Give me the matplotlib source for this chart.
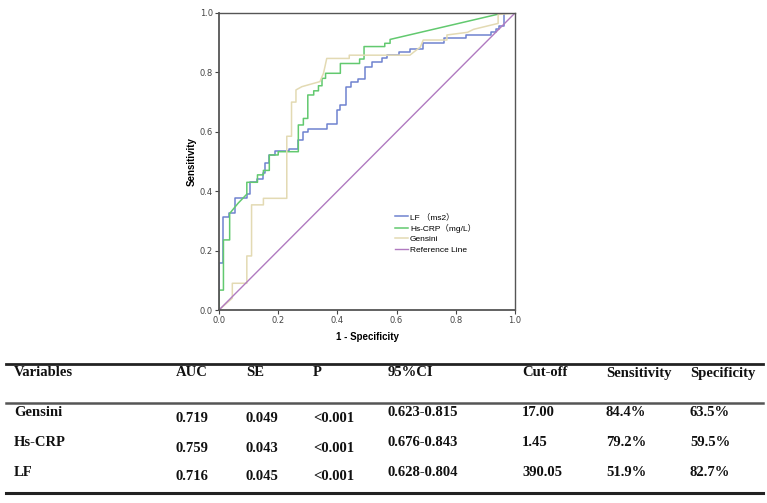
import matplotlib
matplotlib.use("Agg")
import matplotlib.pyplot as plt
from matplotlib.lines import Line2D

# ROC operating points (1 - specificity, sensitivity)
lf_fpr = [0, 0, 0.015, 0.015, 0.035, 0.035, 0.054, 0.054, 0.094, 0.094, 0.105, 0.105,
          0.13, 0.13, 0.15, 0.15, 0.155, 0.155, 0.17, 0.17, 0.19, 0.19, 0.235, 0.235,
          0.267, 0.267, 0.285, 0.285, 0.30, 0.30, 0.364, 0.364, 0.398, 0.398, 0.41, 0.41,
          0.43, 0.43, 0.445, 0.445, 0.469, 0.469, 0.494, 0.494, 0.517, 0.517, 0.55, 0.55,
          0.568, 0.568, 0.608, 0.608, 0.645, 0.645, 0.69, 0.69, 0.76, 0.76, 0.835, 0.835,
          0.92, 0.92, 0.935, 0.935, 0.945, 0.945, 0.963, 0.963, 1.0]
lf_tpr = [0, 0.157, 0.157, 0.312, 0.312, 0.325, 0.325, 0.376, 0.376, 0.39, 0.39, 0.43,
          0.43, 0.442, 0.442, 0.46, 0.46, 0.495, 0.495, 0.522, 0.522, 0.535, 0.535, 0.541,
          0.541, 0.572, 0.572, 0.60, 0.60, 0.61, 0.61, 0.625, 0.625, 0.673, 0.673, 0.69,
          0.69, 0.752, 0.752, 0.768, 0.768, 0.779, 0.779, 0.819, 0.819, 0.836, 0.836, 0.847,
          0.847, 0.858, 0.858, 0.869, 0.869, 0.88, 0.88, 0.90, 0.90, 0.915, 0.915, 0.927,
          0.927, 0.935, 0.935, 0.945, 0.945, 0.955, 0.955, 1.0, 1.0]

crp_fpr = [0, 0, 0.015, 0.015, 0.036, 0.036, 0.065, 0.094, 0.094, 0.13, 0.13, 0.15, 0.15,
           0.17, 0.17, 0.20, 0.20, 0.268, 0.268, 0.285, 0.285, 0.30, 0.30, 0.32, 0.32,
           0.336, 0.336, 0.348, 0.348, 0.36, 0.36, 0.41, 0.41, 0.475, 0.475, 0.49, 0.49,
           0.56, 0.56, 0.578, 0.578, 0.96, 1.0]
crp_tpr = [0, 0.067, 0.067, 0.236, 0.236, 0.325, 0.36, 0.39, 0.43, 0.43, 0.455, 0.455, 0.47,
           0.47, 0.522, 0.522, 0.533, 0.533, 0.623, 0.623, 0.645, 0.645, 0.724, 0.724, 0.738,
           0.738, 0.755, 0.755, 0.78, 0.78, 0.797, 0.797, 0.83, 0.83, 0.845, 0.845, 0.887,
           0.887, 0.898, 0.898, 0.911, 1.0, 1.0]

gen_fpr = [0, 0.045, 0.045, 0.094, 0.094, 0.11, 0.11, 0.15, 0.15, 0.229, 0.229, 0.245, 0.245,
           0.26, 0.26, 0.28, 0.341, 0.353, 0.364, 0.44, 0.44, 0.645, 0.66, 0.68, 0.69, 0.77,
           0.77, 0.84, 0.86, 0.943, 0.943, 1.0]
gen_tpr = [0, 0.04, 0.09, 0.09, 0.182, 0.182, 0.354, 0.354, 0.376, 0.376, 0.585, 0.585, 0.70,
           0.70, 0.741, 0.752, 0.769, 0.797, 0.847, 0.847, 0.858, 0.858, 0.87, 0.885, 0.909,
           0.909, 0.926, 0.935, 0.945, 0.965, 0.995, 1.0]

ref_x = [0, 1]
ref_y = [0, 1]

ticks = [0.0, 0.2, 0.4, 0.6, 0.8, 1.0]

legend_labels = ["LF \uff08ms2\uff09", "Hs-CRP\uff08mg/L\uff09", "Gensini", "Reference Line"]

# summary table
headers = ["Variables", "AUC", "SE", "P", "95%CI", "Cut-off", "Sensitivity", "Specificity"]
variables = ["Gensini", "Hs-CRP", "LF"]
auc = ["0.719", "0.759", "0.716"]
se = ["0.049", "0.043", "0.045"]
p_val = ["<0.001", "<0.001", "<0.001"]
ci95 = ["0.623-0.815", "0.676-0.843", "0.628-0.804"]
cutoff = ["17.00", "1.45", "390.05"]
sensitivity = ["84.4%", "79.2%", "51.9%"]
specificity = ["63.5%", "59.5%", "82.7%"]

W, H = 767, 503
fig = plt.figure(figsize=(W / 100, H / 100), dpi=100)

ax = fig.add_axes([219 / W, 1 - 310 / H, 296 / W, 297 / H])
ax.plot(lf_fpr, lf_tpr, color="#6f82cf", lw=1.1, label=legend_labels[0])
ax.plot(crp_fpr, crp_tpr, color="#62c96f", lw=1.1, label=legend_labels[1])
ax.plot(gen_fpr, gen_tpr, color="#e3dab3", lw=1.1, label=legend_labels[2])
ax.plot(ref_x, ref_y, color="#b07ac0", lw=1.0, label=legend_labels[3])

ax.set_xlim(0, 1)
ax.set_ylim(0, 1)
ax.set_xticks(ticks)
ax.set_yticks(ticks)
ax.set_xticklabels([f"{t:.1f}" for t in ticks])
ax.set_yticklabels([f"{t:.1f}" for t in ticks])
ax.tick_params(direction="out", length=3, width=0.8, labelsize=6, colors="#444444",
               pad=1.5)
for s in ax.spines.values():
    s.set_color("#555555")
    s.set_linewidth(1.0)
ax.spines["left"].set_linewidth(1.3)
ax.spines["bottom"].set_linewidth(1.3)

ax.set_xlabel("1 - Specificity", fontsize=7, fontweight="bold", family="Liberation Sans",
              labelpad=5)
ax.set_ylabel("Sensitivity", fontsize=7, fontweight="bold", family="Liberation Sans",
              labelpad=2)

ax.legend(loc="upper left", bbox_to_anchor=(0.595, 0.325), frameon=False,
          prop={"family": ["Liberation Sans", "Noto Sans CJK SC"], "size": 6},
          handlelength=1.6, handletextpad=0.2, labelspacing=0.3, borderpad=0,
          borderaxespad=0)

# table rules
def hline(y, lw, color):
    fig.add_artist(Line2D([6 / W, 763 / W], [1 - y / H, 1 - y / H],
                          transform=fig.transFigure, color=color, lw=lw))

hline(364, 2.0, "#222222")
hline(403, 1.8, "#555555")
hline(493, 2.2, "#222222")

col_x = [14, 176, 246, 313, 388, 522, 606, 690]
tkw = dict(fontsize=10.5, fontweight="bold", family="Liberation Serif", color="#111111",
           va="center", ha="left")
for x, h in zip(col_x, headers):
    fig.text(x / W, 1 - 373 / H, h, **tkw)

label_y = [413, 442, 473]
value_y = [419, 449, 477]
columns = [auc, se, p_val, ci95, cutoff, sensitivity, specificity]
for i, name in enumerate(variables):
    fig.text(col_x[0] / W, 1 - label_y[i] / H, name, **tkw)
    for j, col in enumerate(columns):
        # AUC, SE and P sit a little lower in the source table
        y = value_y[i] if j < 3 else label_y[i]
        fig.text(col_x[j + 1] / W, 1 - y / H, col[i], **tkw)

fig.savefig("out.png", dpi=100)
